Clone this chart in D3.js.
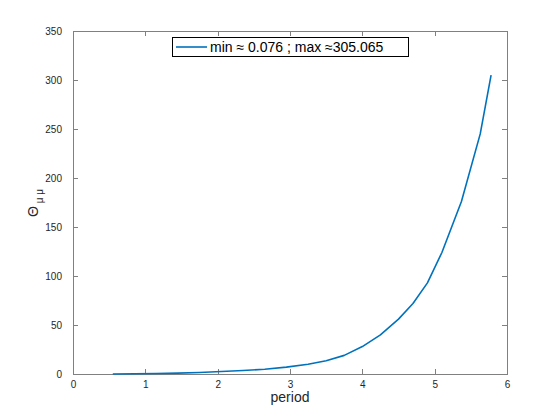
<!DOCTYPE html>
<html><head><meta charset="utf-8">
<script src="https://cdn.jsdelivr.net/npm/d3@7"></script>
<style>
body{margin:0;background:#fff;}
text{font-family:"Liberation Sans",Arial,Helvetica,sans-serif;}
</style></head>
<body>
<svg id="c" width="560" height="420"></svg>
<script>
const periods = [0.55,0.85,1.15,1.45,1.75,2.05,2.35,2.65,2.95,3.25,3.5,3.75,4.0,4.25,4.5,4.7,4.9,5.1,5.37,5.63,5.78];
const theta   = [0.076,0.25,0.5,0.9,1.5,2.5,3.5,4.9,7.0,10.0,13.5,19.0,28.0,40,56,72,93,124,176,245,305.065];
const xTicks = [0,1,2,3,4,5,6];
const yTicks = [0,50,100,150,200,250,300,350];
const legendLabel = "min \u2248 0.076 ; max \u2248305.065";

const svg = d3.select("#c");
const L=73,R=507,T=31,B=374;
const x = d3.scaleLinear().domain([0,6]).range([L,R]);
const y = d3.scaleLinear().domain([0,350]).range([B,T]);
const axisCol="#808080", txtCol="#262626";

svg.append("rect").attr("x",L).attr("y",T).attr("width",R-L).attr("height",B-T)
  .attr("fill","none").attr("stroke",axisCol).attr("stroke-width",1).attr("shape-rendering","crispEdges");

function styleAxis(g){
  g.select(".domain").remove();
  g.selectAll(".tick line").attr("stroke",axisCol).attr("shape-rendering","crispEdges");
  g.selectAll(".tick text").attr("fill",txtCol).style("font-size","10px");
}
svg.append("g").attr("transform",`translate(0,${B})`)
  .call(d3.axisBottom(x).tickValues(xTicks).tickSize(-5).tickPadding(7).tickFormat(d3.format("d")))
  .call(styleAxis);
svg.append("g").attr("transform",`translate(0,${T})`)
  .call(d3.axisTop(x).tickValues(xTicks).tickSize(-5).tickFormat(""))
  .call(styleAxis);
svg.append("g").attr("transform",`translate(${L},0)`)
  .call(d3.axisLeft(y).tickValues(yTicks).tickSize(-5).tickPadding(11).tickFormat(d3.format("d")))
  .call(styleAxis);
svg.append("g").attr("transform",`translate(${R},0)`)
  .call(d3.axisRight(y).tickValues(yTicks).tickSize(-5).tickFormat(""))
  .call(styleAxis);

const data = periods.map((p,i)=>({p,v:theta[i]}));
svg.append("path").datum(data)
  .attr("fill","none").attr("stroke","#0072BD").attr("stroke-width",1.6)
  .attr("stroke-linejoin","round")
  .attr("d",d3.line().x(d=>x(d.p)).y(d=>y(d.v)));

svg.append("text").attr("x",(L+R)/2).attr("y",402).attr("text-anchor","middle")
  .attr("fill",txtCol).style("font-size","14px").text("period");

const yl = svg.append("text").attr("transform","translate(38,203) rotate(-90)")
  .attr("text-anchor","middle").attr("fill",txtCol).style("font-size","14px");
yl.append("tspan").text("\u0398");
yl.append("tspan").attr("dy",5).style("font-size","10px").text(" \u03bc \u03bc");

const lg = svg.append("g");
lg.append("rect").attr("x",172).attr("y",37.5).attr("width",236).attr("height",19)
  .attr("fill","#fff").attr("stroke","#000").attr("stroke-width",1).attr("shape-rendering","crispEdges");
lg.append("line").attr("x1",176).attr("x2",207).attr("y1",47).attr("y2",47)
  .attr("stroke","#0072BD").attr("stroke-width",1.6);
lg.append("text").attr("x",210).attr("y",52).attr("fill","#000").style("font-size","14px").text(legendLabel);
</script>
</body></html>
